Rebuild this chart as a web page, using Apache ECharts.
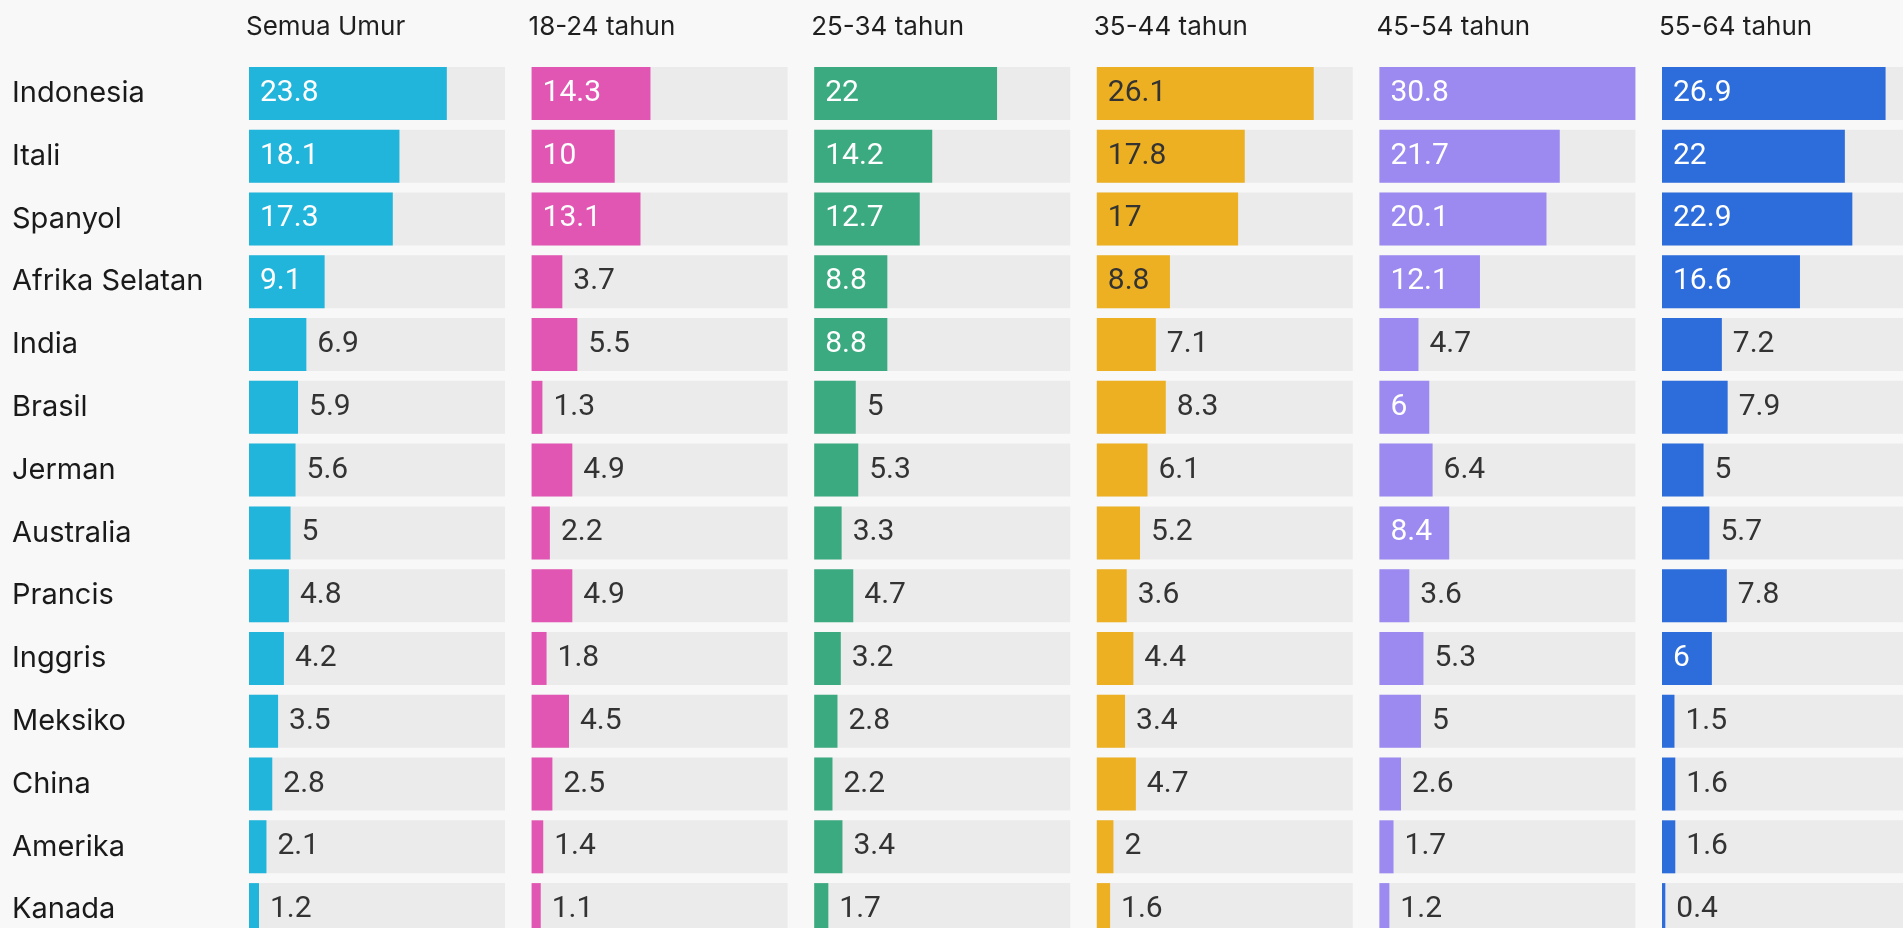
<!DOCTYPE html>
<html>
<head>
<meta charset="utf-8">
<script src="https://cdn.jsdelivr.net/npm/echarts@6/dist/echarts.min.js"></script>
<style>
  html, body { margin: 0; padding: 0; background: #f8f8f8; overflow: hidden; }
  /* the original graphic is cropped on the right and bottom, so the canvas is larger than the window */
  #chart { width: 1940px; height: 960px; }
</style>
</head>
<body>
<div id="chart"></div>
<script>
const countries = ['Indonesia', 'Itali', 'Spanyol', 'Afrika Selatan', 'India', 'Brasil', 'Jerman',
  'Australia', 'Prancis', 'Inggris', 'Meksiko', 'China', 'Amerika', 'Kanada'];
const groups = ['Semua Umur', '18-24 tahun', '25-34 tahun', '35-44 tahun', '45-54 tahun', '55-64 tahun'];

const semuaUmur = [23.8, 18.1, 17.3, 9.1, 6.9, 5.9, 5.6, 5, 4.8, 4.2, 3.5, 2.8, 2.1, 1.2];
const usia18_24 = [14.3, 10, 13.1, 3.7, 5.5, 1.3, 4.9, 2.2, 4.9, 1.8, 4.5, 2.5, 1.4, 1.1];
const usia25_34 = [22, 14.2, 12.7, 8.8, 8.8, 5, 5.3, 3.3, 4.7, 3.2, 2.8, 2.2, 3.4, 1.7];
const usia35_44 = [26.1, 17.8, 17, 8.8, 7.1, 8.3, 6.1, 5.2, 3.6, 4.4, 3.4, 4.7, 2, 1.6];
const usia45_54 = [30.8, 21.7, 20.1, 12.1, 4.7, 6, 6.4, 8.4, 3.6, 5.3, 5, 2.6, 1.7, 1.2];
const usia55_64 = [26.9, 22, 22.9, 16.6, 7.2, 7.9, 5, 5.7, 7.8, 6, 1.5, 1.6, 1.6, 0.4];

const seriesValues = [semuaUmur, usia18_24, usia25_34, usia35_44, usia45_54, usia55_64];
const colors = ['#21b5dc', '#e256b3', '#3caa81', '#edb022', '#9c8af1', '#2d6cdb'];
const insideText = ['#fff', '#fff', '#fff', '#333', '#fff', '#fff'];

const axisMax = 30.8;
const panelLeft = 249;
const panelStep = 282.6;
const panelWidth = 256;
const gridTop = 62;
const gridHeight = 879;
const labelFont = '30px Roboto';

// label goes inside the bar only when it fits
const ctx = document.createElement('canvas').getContext('2d');
ctx.font = labelFont;
const fitsInside = (v) => (v / axisMax) * panelWidth >= ctx.measureText(String(v)).width + 27.8;

const chart = echarts.init(document.getElementById('chart'), null, { renderer: 'canvas' });

const grids = [], xAxes = [], yAxes = [], series = [], titles = [];
groups.forEach((name, i) => {
  const left = panelLeft + i * panelStep;
  grids.push({ left: left, top: gridTop, width: panelWidth, height: gridHeight, containLabel: false });
  titles.push({
    text: name,
    left: left - 3,
    top: 14,
    padding: 0,
    textStyle: { fontFamily: 'Inter', fontSize: 26, fontWeight: 400, color: '#1f1f1f' },
  });
  xAxes.push({ type: 'value', gridIndex: i, min: 0, max: axisMax, show: false });
  yAxes.push({
    type: 'category',
    gridIndex: i,
    data: countries,
    inverse: true,
    axisLine: { show: false },
    axisTick: { show: false },
    axisLabel: {
      show: i === 0,
      align: 'left',
      margin: panelLeft - 12,
      fontFamily: 'Inter',
      fontSize: 29,
      color: '#1a1a1a',
    },
  });
  series.push({
    type: 'bar',
    name: name,
    xAxisIndex: i,
    yAxisIndex: i,
    barWidth: 53,
    showBackground: true,
    backgroundStyle: { color: '#ebebeb' },
    itemStyle: { color: colors[i] },
    label: { show: true, fontFamily: 'Roboto', fontSize: 30, formatter: '{c}' },
    data: seriesValues[i].map((v) => {
      const inside = fitsInside(v);
      return {
        value: v,
        label: {
          position: inside ? 'insideLeft' : 'right',
          distance: 11,
          color: inside ? insideText[i] : '#333',
        },
      };
    }),
  });
});

chart.setOption({
  backgroundColor: '#f8f8f8',
  animation: false,
  title: titles,
  grid: grids,
  xAxis: xAxes,
  yAxis: yAxes,
  series: series,
});
</script>
</body>
</html>
